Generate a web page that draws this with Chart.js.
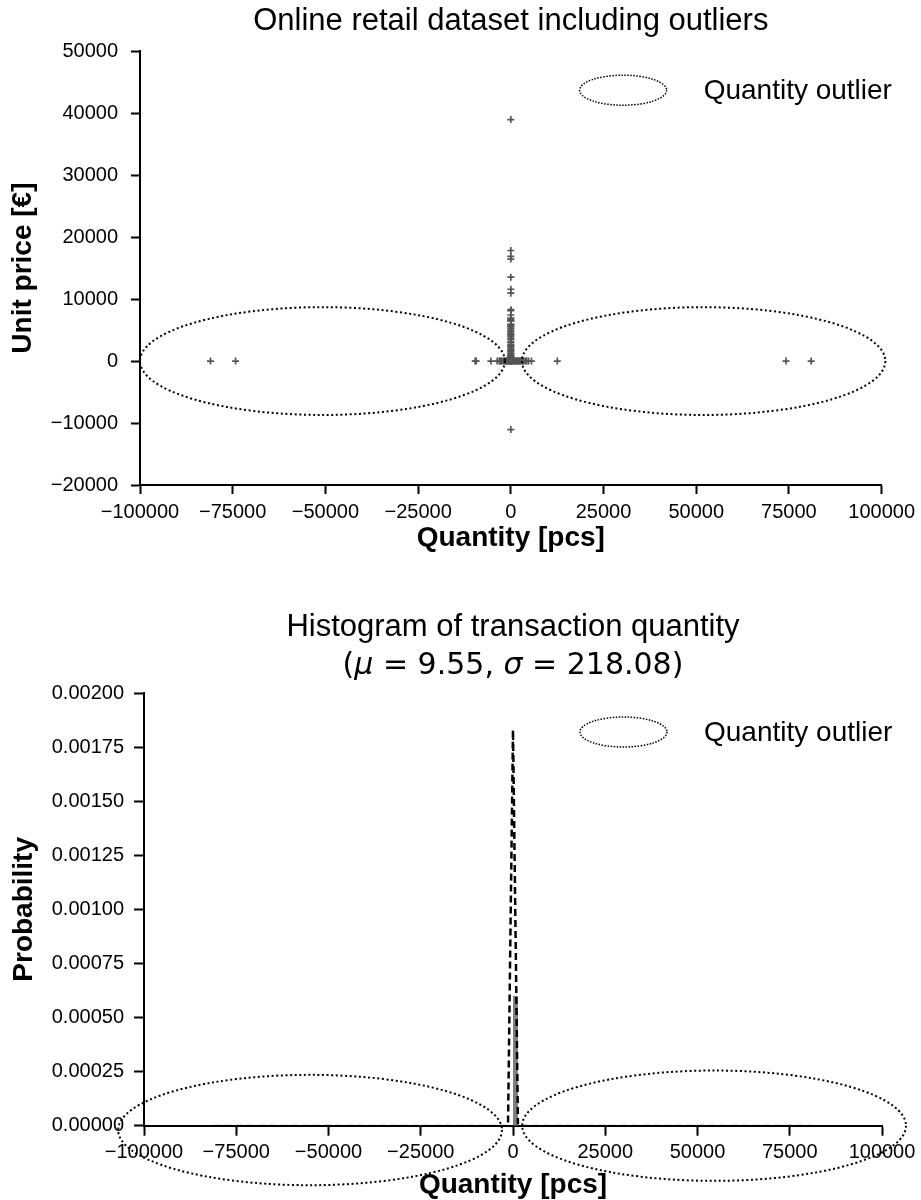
<!DOCTYPE html>
<html lang="en">
<head>
<meta charset="UTF-8">
<title>Online retail dataset including outliers</title>
<script src="https://cdn.jsdelivr.net/npm/chart.js"></script>
<style>
  body { margin: 0; background: #fff; }
  canvas { display: block; }
</style>
</head>
<body>
<canvas id="scatter" width="921" height="590"></canvas>
<canvas id="hist" width="921" height="610"></canvas>
<script>
// transactions with a quantity close to zero (the price spike)
var spikeQty = [-1, 1, -1, 1, -1, -1, 1, 1, -1, 1,
                -1, 1, -1, 1, -1, 1, 1, -1, 1, -1,
                1, 1, -1, 1, -1, 1, -1, 1, 1, -1,
                1, -1, 1, -1, 1, 1, -1, 1, -1, 1,
                2, -1, 1, 3, -2, 4, 1];
var spikePrice = [38970, 17836.46, 16888.02, 16453.71, 13541.33, 11586.5, 10953.5, 8286.22, 8142.75, 7427.97,
                  6930, 6721.37, 6539.4, 6497.47, 5942.57, 5876.4, 5693.05, 5522.14, 5258.77, 4992,
                  4781.6, 4505.17, 4287.63, 4161.06, 3949.32, 3677, 3508, 3155.95, 2958.5, 2653.95,
                  2500, 2382.92, 2118.74, 1867.86, 1715.85, 1500, 1270.06, 1136.3, 950.99, 868.18,
                  700, 570, 450, 295, 165, 60, -11062.06];

// transactions along the low price line
var rowQty = [-80995, -74215, -9600, -9360, -5368, -3667, -3114, -2880, -2600, -2376,
              -2000, -1681, -1515, -1350, -1206, -1060, -944, -756, -600, -433,
              -300, -192, -96, -24, 12, 48, 144, 288, 480, 640,
              800, 1056, 1296, 1440, 1600, 1788, 1992, 2100, 2400, 2592,
              2880, 3114, 3186, 3500, 3906, 4300, 4800, 5568, 12540, 74215,
              80995];
var rowPrice = [2.08, 1.04, 0.02, 0.03, 0.18, 0.12, 0.1, 0.21, 0.16, 1.65,
                0.38, 0.72, 0.42, 0.35, 0.21, 0.55, 0.19, 1.25, 0.29, 0.85,
                0.39, 2.1, 1.45, 0.65, 2.55, 1.25, 0.42, 0.21, 0.85, 0.29,
                0.12, 0.21, 0.55, 0.06, 0.19, 0.65, 0.25, 0.82, 0.21, 0.32,
                0.65, 0.36, 0.72, 0.21, 0.19, 0.04, 0.55, 0.19, 0.32, 1.04,
                2.08];

var qtyTicks = [-100000, -75000, -50000, -25000, 0, 25000, 50000, 75000, 100000];
var priceTicks = [-20000, -10000, 0, 10000, 20000, 30000, 40000, 50000];
var probTicks = [0, 0.00025, 0.0005, 0.00075, 0.001, 0.00125, 0.0015, 0.00175, 0.002];

// histogram bins
var binLeft = [0];
var binRight = [1350];
var binDensity = [0.0006];

// fitted normal curve, sampled at the bin edges
var pdfQty = [-80995, -1350, 0, 1350, 80995];
var pdfProb = [0, 0, 0.00183, 0, 0];

// outlier regions (centre and half axes in data units)
var scatterOutX = [-50800, 52000];
var scatterOutY = [0, 0];
var scatterOutRx = [49200, 49000];
var scatterOutRy = [8700, 8700];

var histOutX = [-55000, 54500];
var histOutY = [-0.00002, 0];
var histOutRx = [52000, 52000];
var histOutRy = [0.000255, 0.000255];

var legendLabel = 'Quantity outlier';

Chart.defaults.font.family = '"Liberation Sans", Arial, sans-serif';
Chart.defaults.color = '#000';

function minusFmt(v) {
  return v < 0 ? '\u2212' + (-v) : String(v);
}

function fixTicks(list) {
  return function (scale) {
    scale.ticks = list.map(function (v) { return { value: v }; });
  };
}

function outlierPlugin(cx, cy, rx, ry) {
  return {
    id: 'outliers',
    afterDraw: function (chart) {
      var ctx = chart.ctx;
      var xs = chart.scales.x, ys = chart.scales.y;
      ctx.save();
      ctx.strokeStyle = '#000';
      ctx.lineWidth = 2;
      ctx.setLineDash([2, 2.6]);
      for (var i = 0; i < cx.length; i++) {
        var px = xs.getPixelForValue(cx[i]);
        var py = ys.getPixelForValue(cy[i]);
        var prx = Math.abs(xs.getPixelForValue(cx[i] + rx[i]) - px);
        var pry = Math.abs(ys.getPixelForValue(cy[i] + ry[i]) - py);
        ctx.beginPath();
        ctx.ellipse(px, py, prx, pry, 0, 0, 2 * Math.PI);
        ctx.stroke();
      }
      // legend entry in the upper right corner
      var a = chart.chartArea;
      ctx.lineWidth = 1.5;
      ctx.setLineDash([1.5, 1.5]);
      ctx.beginPath();
      ctx.ellipse(a.right - 258.5, a.top + 39, 43.5, 15, 0, 0, 2 * Math.PI);
      ctx.stroke();
      ctx.setLineDash([]);
      ctx.fillStyle = '#000';
      ctx.font = '28px "Liberation Sans", Arial, sans-serif';
      ctx.textBaseline = 'middle';
      ctx.textAlign = 'left';
      ctx.fillText(legendLabel, a.right - 178, a.top + 40);
      ctx.restore();
    }
  };
}

function axisStyle(tickLen) {
  return {
    border: { display: true, color: '#000', width: 2 },
    grid: { drawOnChartArea: false, drawTicks: true, tickLength: tickLen, tickWidth: 2, tickColor: '#000', color: '#000' }
  };
}

// --- scatter: unit price against quantity ---
var spikePts = spikeQty.map(function (q, i) { return { x: q, y: spikePrice[i] }; });
var rowPts = rowQty.map(function (q, i) { return { x: q, y: rowPrice[i] }; });

new Chart(document.getElementById('scatter'), {
  type: 'scatter',
  data: {
    datasets: [{
      data: rowPts.concat(spikePts),
      pointStyle: 'cross',
      pointRadius: 3.5,
      borderWidth: 1.7,
      borderColor: '#555555',
      backgroundColor: '#555555'
    }]
  },
  options: {
    responsive: false,
    animation: false,
    layout: { padding: { left: 0, right: 39, top: 0, bottom: 0 } },
    plugins: {
      legend: { display: false },
      tooltip: { enabled: false },
      title: {
        display: true,
        fullSize: false,
        text: 'Online retail dataset including outliers',
        color: '#000',
        font: { size: 31, weight: 'normal', lineHeight: 1.2 },
        padding: { top: 3, bottom: 11 }
      }
    },
    scales: {
      x: Object.assign(axisStyle(9), {
        type: 'linear', min: -100000, max: 100000,
        afterBuildTicks: fixTicks(qtyTicks),
        afterFit: function (s) { s.height = 105; },
        ticks: { font: { size: 20 }, padding: 6, maxRotation: 0, autoSkip: false, callback: minusFmt },
        title: { display: true, text: 'Quantity [pcs]', font: { size: 28, weight: 'bold' }, padding: { top: 0, bottom: 35 } }
      }),
      y: Object.assign(axisStyle(9), {
        type: 'linear', min: -20000, max: 50000,
        afterBuildTicks: fixTicks(priceTicks),
        afterFit: function (s) { s.width = 140; },
        ticks: { font: { size: 20 }, padding: 13, autoSkip: false, callback: minusFmt },
        title: { display: true, text: 'Unit price [€]', font: { size: 28, weight: 'bold' }, padding: { top: 6, bottom: 0 } }
      })
    }
  },
  plugins: [outlierPlugin(scatterOutX, scatterOutY, scatterOutRx, scatterOutRy)]
});

// --- histogram of transaction quantity ---
var histPts = [];
binLeft.forEach(function (l, i) {
  histPts.push({ x: l, y: 0 }, { x: l, y: binDensity[i] }, { x: binRight[i], y: binDensity[i] }, { x: binRight[i], y: 0 });
});
var pdfPts = pdfQty.map(function (q, i) { return { x: q, y: pdfProb[i] }; });

var titleSize = 31, titleLH = 1.25, titlePadBottom = 7.9;
var mathLine = [['(', false], ['\u03bc', true], [' = 9.55, ', false], ['\u03c3', true], [' = 218.08)', false]];

var mathTitle = {
  id: 'mathTitle',
  afterDraw: function (chart) {
    var ctx = chart.ctx, a = chart.chartArea;
    var y = a.top - titlePadBottom - titleSize * titleLH / 2;
    var fonts = mathLine.map(function (s) {
      return (s[1] ? 'italic ' : '') + '30px "DejaVu Sans", sans-serif';
    });
    ctx.save();
    var total = 0;
    var widths = mathLine.map(function (s, i) {
      ctx.font = fonts[i];
      var w = ctx.measureText(s[0]).width;
      total += w;
      return w;
    });
    var x = (a.left + a.right) / 2 - total / 2;
    ctx.fillStyle = '#000';
    ctx.textBaseline = 'middle';
    ctx.textAlign = 'left';
    mathLine.forEach(function (s, i) {
      ctx.font = fonts[i];
      ctx.fillText(s[0], x, y);
      x += widths[i];
    });
    ctx.restore();
  }
};

new Chart(document.getElementById('hist'), {
  type: 'line',
  data: {
    datasets: [{
      data: histPts,
      fill: 'origin',
      backgroundColor: '#7f7f7f',
      borderWidth: 0,
      pointRadius: 0,
      order: 2
    }, {
      data: pdfPts,
      fill: false,
      borderColor: '#000',
      borderWidth: 2.5,
      borderDash: [7, 4],
      pointRadius: 0,
      tension: 0,
      // the flat tails sit under the axis line
      clip: { left: 0, top: 5, right: 0, bottom: -1.5 },
      order: 1
    }]
  },
  options: {
    responsive: false,
    animation: false,
    layout: { padding: { left: 0, right: 39, top: 0, bottom: 0 } },
    plugins: {
      legend: { display: false },
      tooltip: { enabled: false },
      title: {
        display: true,
        fullSize: false,
        text: ['Histogram of transaction quantity', ''],
        color: '#000',
        font: { size: titleSize, weight: 'normal', lineHeight: titleLH },
        padding: { top: 17.6, bottom: titlePadBottom }
      }
    },
    scales: {
      x: Object.assign(axisStyle(10), {
        type: 'linear', min: -100000, max: 100000,
        afterBuildTicks: fixTicks(qtyTicks),
        afterFit: function (s) { s.height = 74.3; },
        ticks: { font: { size: 20 }, padding: 5, maxRotation: 0, autoSkip: false, callback: minusFmt },
        title: { display: true, text: 'Quantity [pcs]', font: { size: 28, weight: 'bold' }, padding: { top: 0, bottom: -2 } }
      }),
      y: Object.assign(axisStyle(10), {
        type: 'linear', min: 0, max: 0.002,
        afterBuildTicks: fixTicks(probTicks),
        afterFit: function (s) { s.width = 144; },
        ticks: { font: { size: 20 }, padding: 10, autoSkip: false, callback: function (v) { return v.toFixed(5); } },
        title: { display: true, text: 'Probability', font: { size: 28, weight: 'bold' }, padding: { top: 7, bottom: 0 } }
      })
    }
  },
  plugins: [outlierPlugin(histOutX, histOutY, histOutRx, histOutRy), mathTitle]
});
</script>
</body>
</html>
